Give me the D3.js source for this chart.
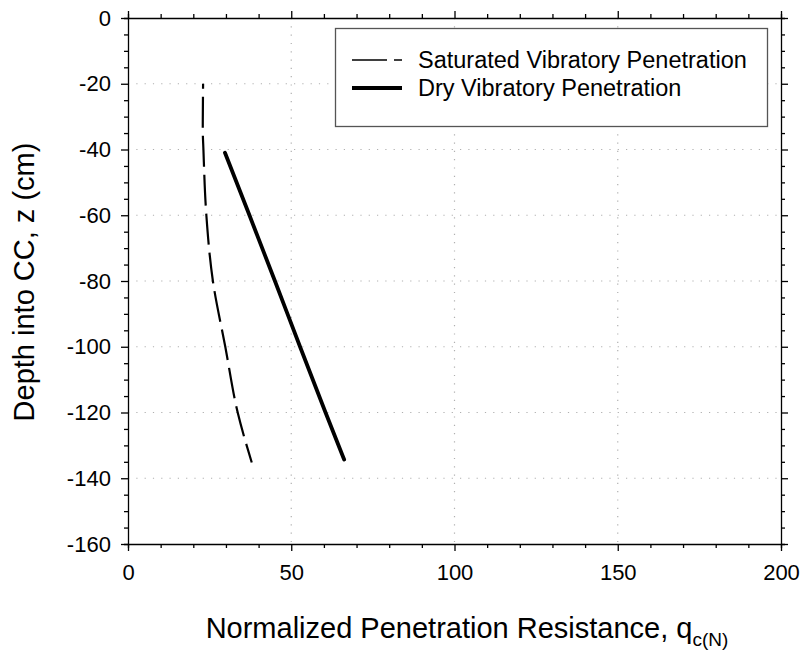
<!DOCTYPE html>
<html>
<head>
<meta charset="utf-8">
<style>
  body { margin: 0; background: #fff; }
  svg text { font-family: "Liberation Sans", Arial, sans-serif; fill: #000; }
  .axis path, .axis line { stroke: #000; stroke-width: 1.3; }
  .grid line { stroke: #b0b0b0; stroke-width: 1.2; stroke-dasharray: 1.2,7.1; }
</style>
</head>
<body>
<script src="https://cdn.jsdelivr.net/npm/d3@7"></script>
<script>
// depth (cm) vs normalized penetration resistance
var satDepth = [-20, -34, -40, -60, -80, -100, -120, -135.2];
var satQc    = [23.0, 22.9, 23.1, 24.0, 26.0, 29.8, 33.6, 37.9];

var dryDepth = [-41, -60, -80, -100, -120, -134.3];
var dryQc    = [29.7, 37.2, 45.0, 52.7, 60.5, 66.2];

var xMajor = [0, 50, 100, 150, 200];
var yMajor = [0, -20, -40, -60, -80, -100, -120, -140, -160];

var legendLabels = ["Saturated Vibratory Penetration", "Dry Vibratory Penetration"];

var W = 806, H = 661;
var pLeft = 128, pRight = 781, pTop = 18, pBottom = 544;

var svg = d3.select("body").append("svg")
    .attr("width", W)
    .attr("height", H);

var x = d3.scaleLinear().domain([0, 200]).range([pLeft, pRight]);
var y = d3.scaleLinear().domain([0, -160]).range([pTop, pBottom]);

// grid
var grid = svg.append("g").attr("class", "grid");
grid.selectAll(".gx")
    .data(xMajor.slice(1, -1))
  .enter().append("line")
    .attr("x1", function(d) { return x(d); })
    .attr("x2", function(d) { return x(d); })
    .attr("y1", pTop).attr("y2", pBottom);
grid.selectAll(".gy")
    .data(yMajor.slice(1, -1))
  .enter().append("line")
    .attr("y1", function(d) { return y(d); })
    .attr("y2", function(d) { return y(d); })
    .attr("x1", pLeft).attr("x2", pRight);

// axes on all four sides, minor + major ticks pointing out
var xMinor = d3.range(0, 201, 10), yMinor = d3.range(0, -161, -5);
function isMajX(d) { return d % 50 === 0; }
function isMajY(d) { return d % 20 === 0; }

function addAxis(axisFn, scale, vals, tr, isMaj, withLabels, vertical) {
  var g = svg.append("g")
      .attr("class", "axis")
      .attr("transform", tr)
      .call(axisFn(scale).tickValues(vals).tickSizeOuter(0).tickSize(4)
            .tickPadding(12)
            .tickFormat(function(d) { return withLabels && isMaj(d) ? d : ""; }));
  g.selectAll(".tick line").each(function(d) {
    var l = d3.select(this);
    var k = isMaj(d) ? 7 : 4;
    var att = vertical ? "x2" : "y2";
    l.attr(att, +l.attr(att) > 0 ? k : -k);
  });
  g.selectAll("text").style("font-size", "22px");
  g.attr("font-family", null).attr("font-size", null);
  return g;
}

addAxis(d3.axisBottom, x, xMinor, "translate(0," + pBottom + ")", isMajX, true, false)
  .selectAll("text").attr("dy", "0.9em");
addAxis(d3.axisTop, x, xMinor, "translate(0," + pTop + ")", isMajX, false, false);
addAxis(d3.axisLeft, y, yMinor, "translate(" + pLeft + ",0)", isMajY, true, true)
  .selectAll("text").attr("dx", "-0.05em");
addAxis(d3.axisRight, y, yMinor, "translate(" + pRight + ",0)", isMajY, false, true);

// data lines
var line = d3.line()
    .curve(d3.curveMonotoneY)
    .x(function(d) { return x(d[0]); })
    .y(function(d) { return y(d[1]); });

var satData = satQc.map(function(q, i) { return [q, satDepth[i]]; });
var dryData = dryQc.map(function(q, i) { return [q, dryDepth[i]]; });

var dash = [5, 8];
for (var i = 0; i < 14; i++) dash.push(31, 8);

svg.append("path")
    .datum(satData)
    .attr("d", line)
    .attr("fill", "none")
    .attr("stroke", "#000")
    .attr("stroke-width", 2.2)
    .attr("stroke-dasharray", dash.join(","));

svg.append("path")
    .datum(dryData)
    .attr("d", line)
    .attr("fill", "none")
    .attr("stroke", "#000")
    .attr("stroke-width", 3.8)
    .attr("stroke-linecap", "round");

// legend
var lg = svg.append("g");
lg.append("rect")
    .attr("x", 335.5).attr("y", 28.5)
    .attr("width", 432).attr("height", 98)
    .attr("fill", "#fff")
    .attr("stroke", "#555")
    .attr("stroke-width", 1.3);

lg.append("line")
    .attr("x1", 352).attr("x2", 402).attr("y1", 60).attr("y2", 60)
    .attr("stroke", "#000").attr("stroke-width", 1.5)
    .attr("stroke-dasharray", "35,7,8,20");
lg.append("line")
    .attr("x1", 352).attr("x2", 402).attr("y1", 88).attr("y2", 88)
    .attr("stroke", "#000").attr("stroke-width", 3.8);

lg.selectAll(".lt")
    .data(legendLabels)
  .enter().append("text")
    .attr("x", 418)
    .attr("y", function(d, i) { return 60 + i * 28; })
    .attr("dy", "0.35em")
    .style("font-size", "23.5px")
    .text(function(d) { return d; });

// axis titles
var xt = svg.append("text")
    .attr("x", 467)
    .attr("y", 638)
    .attr("text-anchor", "middle")
    .style("font-size", "29px");
xt.append("tspan").text("Normalized Penetration Resistance, q");
xt.append("tspan")
    .attr("dy", 8)
    .style("font-size", "19px")
    .text("c(N)");

svg.append("text")
    .attr("transform", "rotate(-90)")
    .attr("x", -282)
    .attr("y", 34)
    .attr("text-anchor", "middle")
    .style("font-size", "29px")
    .text("Depth into CC, z (cm)");
</script>
</body>
</html>
